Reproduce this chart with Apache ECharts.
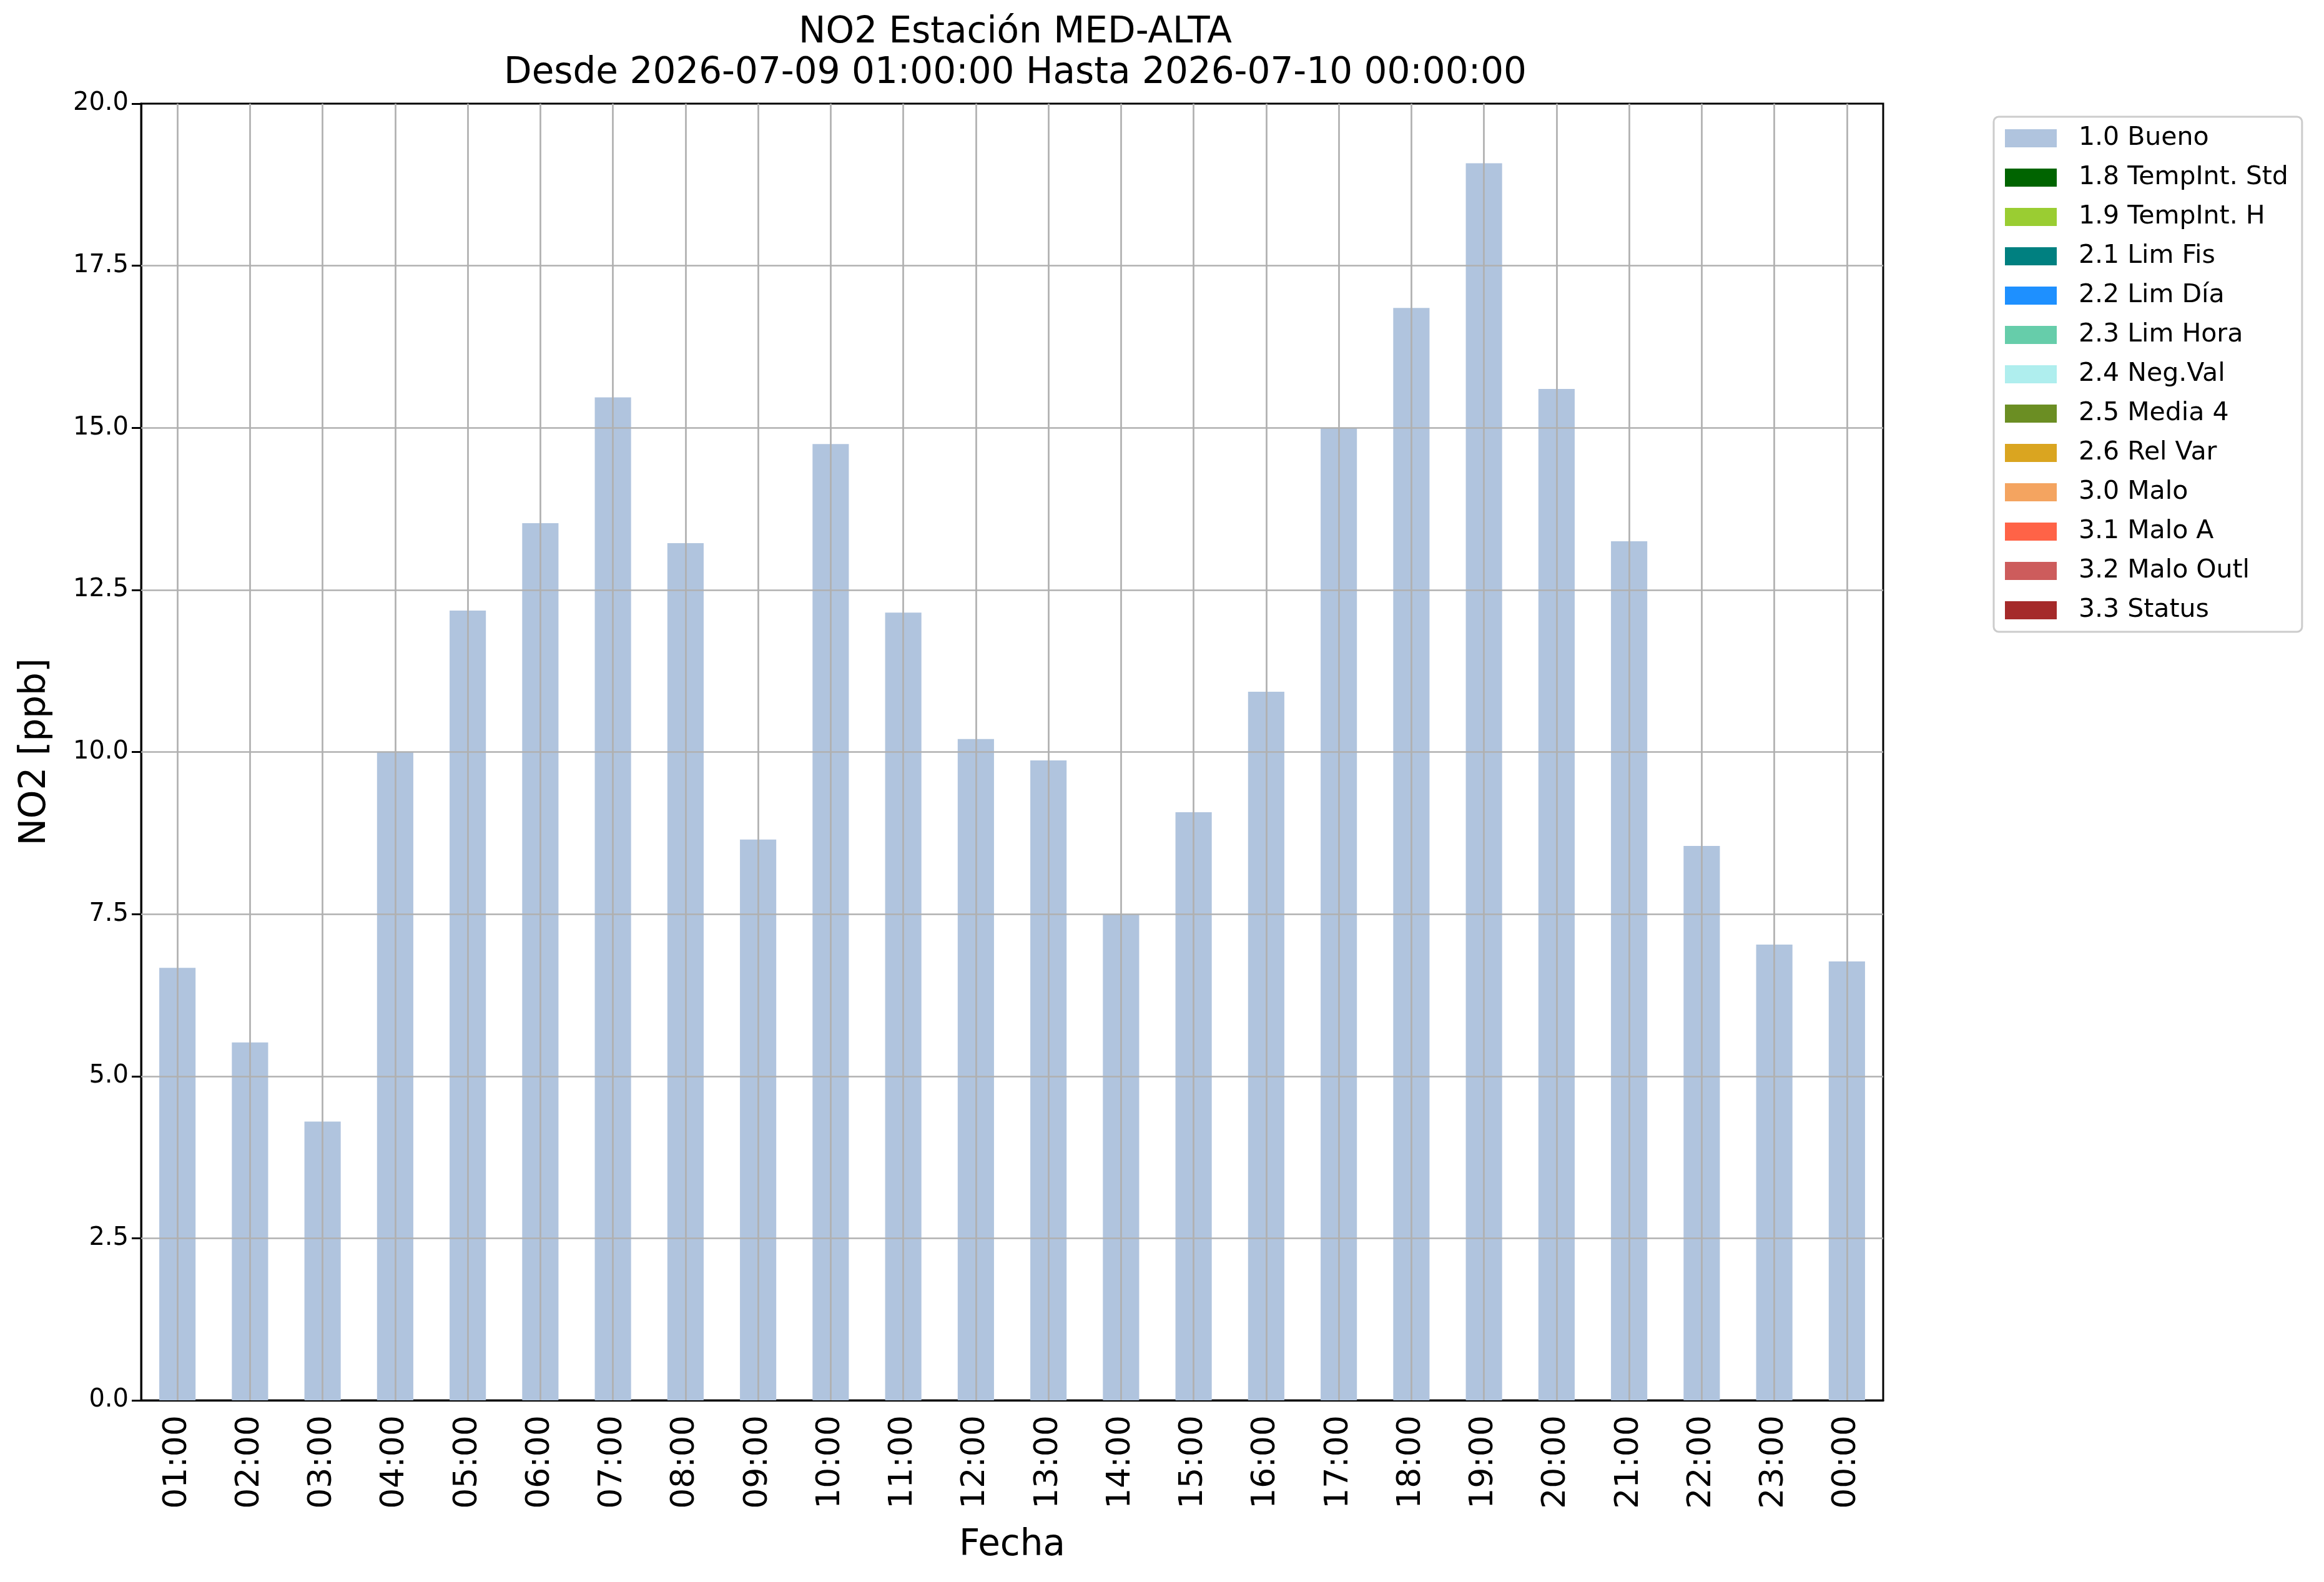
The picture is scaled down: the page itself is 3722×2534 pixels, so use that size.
<!DOCTYPE html>
<html>
<head>
<meta charset="utf-8">
<script src="https://cdn.jsdelivr.net/npm/echarts@6/dist/echarts.min.js"></script>
<style>
  html, body { margin: 0; padding: 0; background: #fff; }
  #chart { width: 3722px; height: 2534px; }
</style>
</head>
<body>
<div id="chart"></div>
<script>
const horas = ['01:00', '02:00', '03:00', '04:00', '05:00', '06:00', '07:00', '08:00',
    '09:00', '10:00', '11:00', '12:00', '13:00', '14:00', '15:00', '16:00',
    '17:00', '18:00', '19:00', '20:00', '21:00', '22:00', '23:00', '00:00'];

const valoresBueno = [6.67, 5.52, 4.30, 10.0, 12.18, 13.53, 15.47, 13.22,
    8.65, 14.75, 12.15, 10.20, 9.87, 7.50, 9.07, 10.93,
    15.0, 16.85, 19.08, 15.60, 13.25, 8.55, 7.03, 6.77];

const flags = ['1.0 Bueno', '1.8 TempInt. Std', '1.9 TempInt. H', '2.1 Lim Fis', '2.2 Lim Día',
    '2.3 Lim Hora', '2.4 Neg.Val', '2.5 Media 4', '2.6 Rel Var', '3.0 Malo',
    '3.1 Malo A', '3.2 Malo Outl', '3.3 Status'];
const coloresFlags = ['#B0C4DE', '#006400', '#9ACD32', '#008080', '#1E90FF',
    '#66CDAA', '#AFEEEE', '#6B8E23', '#DAA520', '#F4A460',
    '#FF6347', '#CD5C5C', '#A52A2A'];

// ticks interiores del eje y (0 y 20 quedan en los bordes del grafico)
const yTicks = [2.5, 5, 7.5, 10, 12.5, 15, 17.5];

const FONT = 'DejaVu Sans';
const GRIS = '#b0b0b0';

const chart = echarts.init(document.getElementById('chart'));

// lineas de grilla por encima de las barras, como en matplotlib
const gridLines = yTicks.map(v => ({ yAxis: v })).concat(horas.map(h => ({ xAxis: h })));

const series = flags.map((nombre, i) => {
    const s = {
        name: nombre,
        type: 'bar',
        stack: 'flags',
        barWidth: '50%',
        itemStyle: { color: coloresFlags[i] },
        data: i === 0 ? valoresBueno : []
    };
    if (i === 0) {
        s.markLine = {
            silent: true,
            symbol: ['none', 'none'],
            label: { show: false },
            lineStyle: { color: GRIS, width: 2.7, type: 'solid' },
            emphasis: { disabled: true },
            animation: false,
            data: gridLines
        };
    }
    return s;
});

const option = {
    animation: false,
    backgroundColor: '#fff',
    title: {
        text: 'NO2 Estación MED-ALTA\nDesde 2026-07-09 01:00:00 Hasta 2026-07-10 00:00:00',
        left: 1621,
        textAlign: 'center',
        top: 15,
        textStyle: { fontFamily: FONT, fontSize: 58, fontWeight: 'normal', color: '#000', lineHeight: 65 }
    },
    grid: {
        left: 226, right: 706, top: 166, bottom: 291,
        show: true, borderColor: '#000', borderWidth: 3, backgroundColor: 'transparent'
    },
    legend: {
        orient: 'vertical',
        left: 3193,
        top: 187,
        icon: 'rect',
        itemWidth: 83,
        itemHeight: 29,
        itemGap: 22,
        padding: [14, 22, 14, 18],
        borderColor: '#cccccc',
        borderWidth: 3,
        borderRadius: 8,
        textStyle: { fontFamily: FONT, fontSize: 41, color: '#000', padding: [0, 0, 0, 30] },
        data: flags
    },
    xAxis: {
        type: 'category',
        data: horas,
        name: 'Fecha',
        nameLocation: 'middle',
        nameGap: 204,
        nameTextStyle: { fontFamily: FONT, fontSize: 58, color: '#000' },
        axisLine: { lineStyle: { color: '#000', width: 3 } },
        axisTick: { alignWithLabel: true, length: 15, lineStyle: { color: '#000', width: 3 } },
        axisLabel: { rotate: 90, fontFamily: FONT, fontSize: 52, color: '#000', margin: 24 },
        splitLine: { show: false }
    },
    yAxis: {
        type: 'value',
        min: 0,
        max: 20,
        interval: 2.5,
        name: 'NO2 [ppb]',
        nameLocation: 'middle',
        nameGap: 140,
        nameTextStyle: { fontFamily: FONT, fontSize: 58, color: '#000' },
        axisLine: { show: true, lineStyle: { color: '#000', width: 3 } },
        axisTick: { show: true, length: 15, lineStyle: { color: '#000', width: 3 } },
        axisLabel: { fontFamily: FONT, fontSize: 40, color: '#000', margin: 20, formatter: v => v.toFixed(1) },
        splitLine: { show: false }
    },
    series: series
};

chart.setOption(option);
</script>
</body>
</html>
